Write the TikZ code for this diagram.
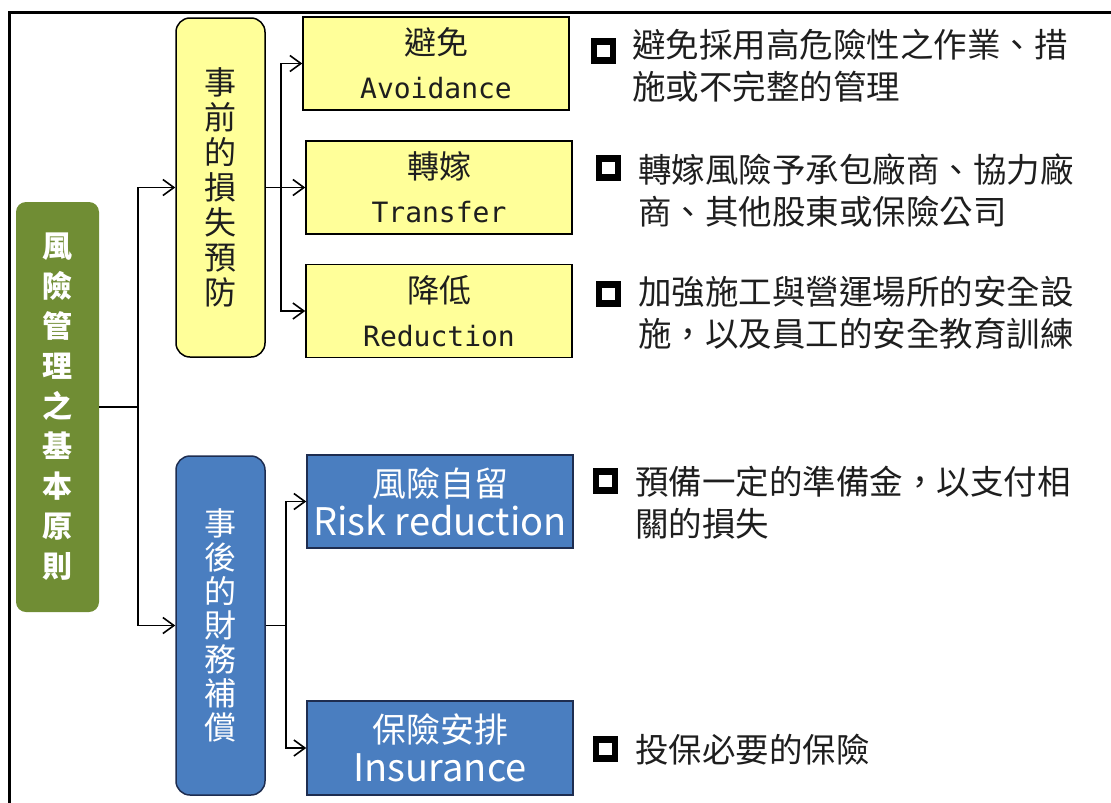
\documentclass[tikz,border=0pt]{standalone}
\usepackage{fontspec}
\setmainfont{Noto Sans CJK TC}
\newfontfamily\monof{DejaVu Sans Mono}
\usetikzlibrary{arrows.meta}
\definecolor{ygreen}{RGB}{112,141,52}
\definecolor{lyellow}{RGB}{255,255,153}
\definecolor{mblue}{RGB}{74,126,192}
\definecolor{dnavy}{RGB}{30,45,80}
\definecolor{txt}{RGB}{30,30,30}
\begin{document}
\begin{tikzpicture}[x=1pt,y=-1pt,
  conn/.style={line width=1.6pt, draw=black},
  arr/.style={conn, -{Straight Barb[length=11pt,width=16pt,line width=1.6pt]}},
  gbox/.style={fill=ygreen, rounded corners=10pt, minimum width=83pt, minimum height=410pt, inner sep=0pt, text=white, align=center, font=\bfseries\fontsize{30}{40}\selectfont},
  ybox/.style={fill=lyellow, draw=black, line width=1.5pt, rounded corners=14pt, minimum width=89pt, minimum height=339pt, inner sep=0pt, text=txt, align=center, font=\fontsize{32}{35}\selectfont},
  bbox/.style={fill=mblue, draw=dnavy, line width=1.5pt, rounded corners=14pt, minimum width=89pt, minimum height=339pt, inner sep=0pt, text=white, align=center, font=\fontsize{32}{34}\selectfont},
  yrect/.style={fill=lyellow, draw=black, line width=1.5pt, minimum width=266pt, minimum height=93pt, inner sep=0pt, text=txt, align=center, font=\fontsize{32}{44}\selectfont},
  brect/.style={fill=mblue, draw=dnavy, line width=1.5pt, minimum width=266pt, minimum height=93pt, inner sep=0pt, text=white, align=center, font=\fontsize{34}{39}\selectfont},
  sq/.style={draw=black, fill=white, line width=6.5pt, minimum size=19pt, inner sep=0pt},
  desc/.style={anchor=west, align=left, inner sep=0pt, text=txt, font=\fontsize{33.5}{42}\selectfont}
]
\useasboundingbox (0,0) rectangle (1111,803);
\draw[line width=3pt] (9,803) -- (9,12) -- (1111,12);

% level 1
\node[gbox] (g) at (57.5,407) {風\\險\\管\\理\\之\\基\\本\\原\\則};
% level 2
\node[ybox] (yb) at (220.5,187.5) {事\\前\\的\\損\\失\\預\\防};
\node[bbox] (bb) at (220.5,625.5) {事\\後\\的\\財\\務\\補\\償};
% level 3
\node[yrect] (a) at (436,63.5) {避免\\{\monof\fontsize{28}{44}\selectfont Avoidance}};
\node[yrect] (t) at (439,187.5) {轉嫁\\{\monof\fontsize{28}{44}\selectfont Transfer}};
\node[yrect] (r) at (439,311) {降低\\{\monof\fontsize{28}{44}\selectfont Reduction}};
\node[brect] (rr) at (440,501.5) {風險自留\\{\fontsize{38}{39}\selectfont Risk reduction}};
\node[brect, minimum height=94pt] (ins) at (440,748) {保險安排\\{\fontsize{38}{39}\selectfont Insurance}};

% connectors
\coordinate (j1) at (138,407);
\draw[conn] (g.east) -- (j1);
\draw[arr] (j1) |- (yb.west);
\draw[arr] (j1) |- (bb.west);
\coordinate (j2) at (281,187.5);
\draw[arr] (yb.east) -- (t.west);
\draw[arr] (j2) |- (a.west);
\draw[arr] (j2) |- (r.west);
\coordinate (j3) at (286,625.5);
\draw[conn] (bb.east) -- (j3);
\draw[arr] (j3) |- (rr.west);
\draw[arr] (j3) |- (ins.west);

% descriptions
\node[sq] (s1) at (603.5,51) {};
\node[desc] (d1) at (632,66) {避免採用高危險性之作業、措\\施或不完整的管理};
\node[sq] (s2) at (608.5,168) {};
\node[desc] (d2) at (638,190) {轉嫁風險予承包廠商、協力廠\\商、其他股東或保險公司};
\node[sq] (s3) at (608.5,294) {};
\node[desc] (d3) at (638,313) {加強施工與營運場所的安全設\\施，以及員工的安全教育訓練};
\node[sq] (s4) at (605.5,481) {};
\node[desc] (d4) at (635,502.5) {預備一定的準備金，以支付相\\關的損失};
\node[sq] (s5) at (605.5,749) {};
\node[desc] (d5) at (635,750) {投保必要的保險};
\end{tikzpicture}
\end{document}
